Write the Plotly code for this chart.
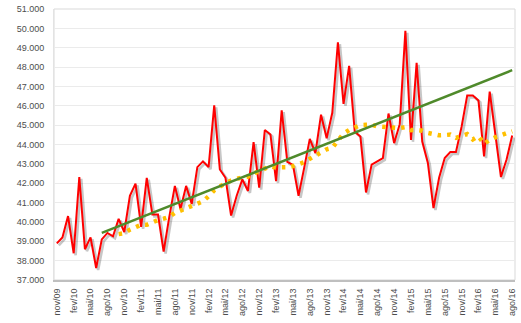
import plotly.graph_objects as go
import pandas as pd

month_abbr = ["jan", "fev", "mar", "abr", "mai", "jun", "jul", "ago", "set", "out", "nov", "dez"]
months = []
y, m = 2009, 10  # start nov/09 (0-based month index 10)
while True:
    months.append(f"{month_abbr[m]}/{str(y)[2:]}")
    if y == 2016 and m == 7:
        break
    m += 1
    if m == 12:
        m = 0
        y += 1

values = [
    38890, 39200, 40300, 38380, 42320, 38590, 39200, 37620, 39100, 39430,
    39260, 40160, 39480, 41350, 41980, 39740, 42280, 40380, 40380, 38470,
    40250, 41860, 40670, 41860, 40930, 42830, 43130, 42830, 46020, 42710,
    42280, 40330, 41350, 42200, 41600, 44120, 41770, 44750, 44520, 42110,
    45770, 43100, 42950, 41350, 42790, 44290, 43560, 45540, 44320, 45640,
    49280, 46100, 48060, 44660, 44410, 41520, 42960, 43150, 43300, 45600,
    44070, 45050, 49870, 44240, 48220, 44150, 43050, 40710, 42280, 43300,
    43610, 43610, 44920, 46530, 46530, 46270, 43390, 46730, 44570, 42320,
    43220, 44460,
]

# 12-month moving average (as in the original chart's trendline)
moving_avg = pd.Series(values).rolling(12).mean().tolist()

# linear trend line drawn in the chart (start / end)
trend_x = [months[8], months[-1]]
trend_y = [39430, 47840]

tick_labels = months[::3]
y_ticks = list(range(37000, 52000, 1000))

fig = go.Figure()

# shadow of the red series (on hidden, slightly shifted axes)
fig.add_trace(go.Scatter(x=months, y=values, mode="lines",
                         line=dict(color="rgba(0,0,0,0.22)", width=2.6),
                         xaxis="x", yaxis="y", hoverinfo="skip", showlegend=False))

fig.add_trace(go.Scatter(x=months, y=values, mode="lines",
                         line=dict(color="#FF0000", width=2),
                         xaxis="x2", yaxis="y2", showlegend=False))
fig.add_trace(go.Scatter(x=months, y=moving_avg, mode="lines",
                         line=dict(color="#FFC000", width=4.5, dash="3.5px,6px"),
                         xaxis="x2", yaxis="y2", showlegend=False))
fig.add_trace(go.Scatter(x=trend_x, y=trend_y, mode="lines",
                         line=dict(color="#4F8A2B", width=2.5),
                         xaxis="x2", yaxis="y2", showlegend=False))

font = dict(family="Liberation Sans, Arial", size=9, color="#4D4D4D")

fig.update_layout(
    width=521, height=323,
    margin=dict(l=54, r=4, t=5, b=43),
    paper_bgcolor="white", plot_bgcolor="white",
    separators=",.",
    font=font,
    xaxis=dict(type="category", categoryorder="array", categoryarray=months,
               range=[-0.5 - 0.35, len(months) - 0.5 - 0.35],
               visible=False, showgrid=False),
    yaxis=dict(range=[37000 + 100, 51000 + 100], visible=False, showgrid=False),
    xaxis2=dict(type="category", categoryorder="array", categoryarray=months,
                overlaying="x", range=[-0.5, len(months) - 0.5],
                tickmode="array", tickvals=tick_labels, ticktext=tick_labels,
                tickangle=-90, showgrid=False, ticks="", ticklabelstandoff=3,
                showline=True, linecolor="#BFBFBF", linewidth=2,
                tickfont=font, anchor="y2"),
    yaxis2=dict(overlaying="y", range=[37000, 51000],
                tickmode="array", tickvals=y_ticks, tickformat=",.0f",
                showgrid=True, gridcolor="#EBEBEB", gridwidth=1,
                zeroline=False, ticks="", ticklabelstandoff=7,
                showline=True, linecolor="#E3E3E3", linewidth=1,
                tickfont=font, anchor="x2"),
    shapes=[dict(type="rect", xref="paper", yref="paper", x0=0, x1=1, y0=0, y1=1,
                 line=dict(color="#D9D9D9", width=1), layer="below")],
)

fig.write_html("out.html")
